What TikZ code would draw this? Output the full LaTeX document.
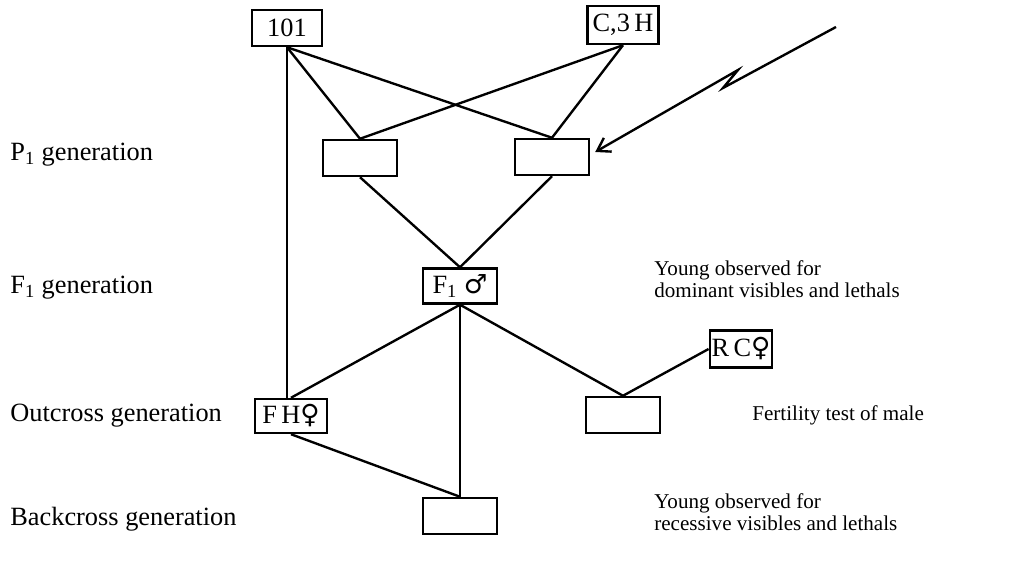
\documentclass[tikz,border=0pt]{standalone}
\usepackage{fontspec}
\setmainfont{Liberation Serif}
\newfontfamily\symfont{DejaVu Sans}
\usetikzlibrary{arrows.meta}
\usetikzlibrary{positioning}
\newcommand{\malesign}{{\symfont ♂}}
\newcommand{\femalesign}{{\symfont ♀}}

\begin{document}
\begin{tikzpicture}[x=0.02cm, y=-0.02cm, box/.style={rectangle, draw, line width=1.4pt, minimum width=1.48cm, minimum height=0.72cm, inner sep=1pt, font=\fontsize{15}{15}\selectfont}, line/.style={line width=1.35pt}, gen/.style={anchor=west, inner sep=0pt, font=\fontsize{15}{15}\selectfont}, note/.style={anchor=west, align=left, inner sep=0pt, font=\fontsize{12}{12.5}\selectfont}, bolt/.style={line width=1.35pt, ->, >={Straight Barb[length=7pt,width=9pt]}}]
\useasboundingbox (0,0) rectangle (1012,563);
\node (STRAIN) [box, minimum width=1.4cm] at (287,28) {101};
\node (CTHREE) [box, minimum width=1.42cm, minimum height=0.76cm] at (623,25) {C,3\,H};
\node (PLEFT) [box] at (360,158) {};
\node (PRIGHT) [box] at (552,157) {};
\node (FONE) [box, minimum height=0.7cm] at (460,286) {F\textsubscript{1} \malesign};
\node (FH) [box, minimum width=1.44cm, minimum height=0.68cm] at (291,416) {F\,H\femalesign};
\node (RC) [box, minimum width=1.16cm, minimum height=0.74cm] at (741,349) {R\,C\femalesign};
\node (TEST) [box] at (623,415) {};
\node (BACK) [box] at (460,516) {};
\node (PGEN) [gen] at (10,155) {P\textsubscript{1} generation};
\node (FGEN) [gen] at (10,288) {F\textsubscript{1} generation};
\node (OGEN) [gen] at (10,416) {Outcross generation};
\node (BGEN) [gen] at (10,519) {Backcross generation};
\node (DOMNOTE) [note] at (654,279) {Young observed for\\dominant visibles and lethals};
\node (FERTNOTE) [note] at (752,415) {Fertility test of male};
\node (RECNOTE) [note] at (654,512) {Young observed for\\recessive visibles and lethals};
\coordinate (RAY) at (836,27);
\coordinate (KINKA) at (723,88);
\coordinate (KINKB) at (738,70);
\draw [line] (STRAIN.south) -- (STRAIN.south |- FH.north);
\draw [line] (STRAIN.south) -- (PLEFT.north);
\draw [line] (STRAIN.south) -- (PRIGHT.north);
\draw [line] (CTHREE.south) -- (PLEFT.north);
\draw [line] (CTHREE.south) -- (PRIGHT.north);
\draw [line] (PLEFT.south) -- (FONE.north);
\draw [line] (PRIGHT.south) -- (FONE.north);
\draw [line] (FONE.south) -- (FH.north);
\draw [line] (FONE.south) -- (BACK.north);
\draw [line] (FONE.south) -- (TEST.north);
\draw [line] (RC.west) -- (TEST.north);
\draw [line] (FH.south) -- (BACK.north);
\draw [bolt] (RAY) -- (KINKA) -- (KINKB) -- ([shift={(5,-5)}]PRIGHT.east);
\end{tikzpicture}
\end{document}
